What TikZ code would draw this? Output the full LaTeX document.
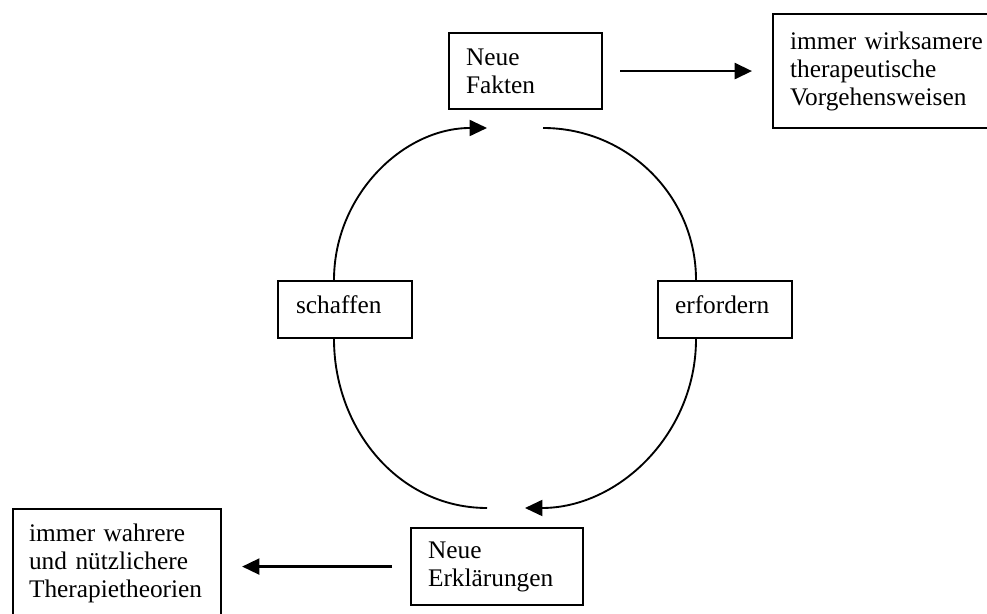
\documentclass[tikz,border=0pt]{standalone}
\usepackage{fontspec}
\setmainfont{Liberation Serif}
\usetikzlibrary{arrows.meta}
\newcommand{\pxl}{0.75pt}
\tikzset{
  box/.style={draw, line width=1.6pt, anchor=north west, align=left,
    inner xsep=17*\pxl, inner ysep=0pt, font=\fontsize{19}{21}\selectfont},
  bogen/.style={line width=1.4pt},
  pfeil/.style={-{Triangle[length=13pt,width=12pt]}}
}

\begin{document}
\begin{tikzpicture}[x=\pxl, y=\pxl]
  \useasboundingbox (0,0) rectangle (987,613);
  \clip (0,0) rectangle (987,613);

  \node[box, minimum width=153*\pxl, minimum height=76*\pxl, text width=119*\pxl]
    (fakten) at (448,581) {Neue\\Fakten};
  \node[box, minimum width=250*\pxl, minimum height=114*\pxl, text width=216*\pxl]
    (vorgehen) at (772,600) {immer wirksamere\\therapeutische\\Vorgehensweisen};
  \node[box, inner xsep=18*\pxl, minimum width=134*\pxl, minimum height=57*\pxl,
    text width=98*\pxl, text depth=7pt] (schaffen) at (277,333) {schaffen};
  \node[box, minimum width=134*\pxl, minimum height=57*\pxl,
    text width=100*\pxl, text depth=7pt] (erfordern) at (657,333) {erfordern};
  \node[box, minimum width=172*\pxl, minimum height=77*\pxl, text width=138*\pxl]
    (erklaerungen) at (410,86) {Neue\\Erklärungen};
  \node[box, inner xsep=16*\pxl, minimum width=208*\pxl, minimum height=109*\pxl,
    text width=176*\pxl] (theorien) at (12,105) {immer wahrere\\und nützlichere\\Therapietheorien};

  % Kreislauf
  \coordinate (sl) at (334,0);
  \coordinate (er) at (696,0);
  \coordinate (ftop-l) at (487,485);
  \coordinate (ftop-r) at (543,485);
  \coordinate (ebot-l) at (487,105);
  \coordinate (ebot-r) at (525,105);

  \draw[bogen, pfeil] (schaffen.north -| sl) to[out=90, in=180] (ftop-l);
  \draw[bogen] (ftop-r) to[out=0, in=90] (erfordern.north -| er);
  \draw[bogen, pfeil] (erfordern.south -| er) to[out=-90, in=0] (ebot-r);
  \draw[bogen] (ebot-l) to[out=180, in=-90] (schaffen.south -| sl);

  \draw[line width=1.8pt, pfeil, shorten <=17*\pxl, shorten >=20*\pxl]
    (fakten.east) -- (vorgehen.west);
  \draw[line width=1.8pt, pfeil, shorten <=18*\pxl, shorten >=20*\pxl]
    (erklaerungen.west) -- (erklaerungen.west -| theorien.east);
\end{tikzpicture}
\end{document}
